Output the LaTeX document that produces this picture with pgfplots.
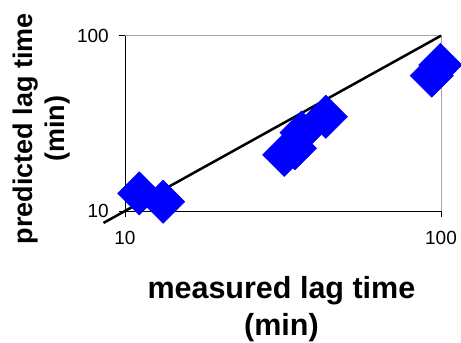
\documentclass[border=0pt]{standalone}
\usepackage{fontspec}
\setmainfont{Liberation Sans}
\usepackage{pgfplots}
\pgfplotsset{compat=1.18}
\begin{document}
\begin{tikzpicture}
\begin{loglogaxis}[
  width=316bp, height=175.3bp, scale only axis,
  xmin=10, xmax=100, ymin=10, ymax=100,
  axis lines=left,
  axis line style={-, black, line width=0.9bp},
  xtick={10,100}, ytick={10,100},
  xticklabels={10,100}, yticklabels={10,100},
  minor tick length=0pt,
  major tick length=6bp,
  tick align=outside,
  tick style={black, line width=0.9bp},
  /pgf/number format/assume math mode=true,
  ticklabel style={font=\fontsize{19bp}{22bp}\selectfont, inner sep=0pt},
  xticklabel style={anchor=north, yshift=-14bp},
  yticklabel style={anchor=east, xshift=-10bp},
  clip=false,
  xlabel={measured lag time\\(min)},
  ylabel={predicted lag time\\(min)},
  every axis x label/.style={at={(rel axis cs:0.495,-0.371)}, anchor=north,
     align=center, inner sep=0pt, font=\fontsize{30.5bp}{37bp}\selectfont\bfseries},
  every axis y label/.style={at={(rel axis cs:-0.354,0.47)}, anchor=north, rotate=90,
     align=center, inner sep=0pt, font=\fontsize{27bp}{32bp}\selectfont\bfseries},
]
\draw[gray!70, line width=0.9bp] (rel axis cs:0,1) -- (rel axis cs:1,1) -- (rel axis cs:1,0);
\addplot[black, line width=2.5bp, mark=none] coordinates {(8.55,8.55) (100,100)};
\addplot[only marks, mark=square*, mark size=15.3bp,
  mark options={fill=blue, draw=blue, line width=0.5bp, rotate=45}]
  coordinates {
  (11.1,12.6) (13.2,11.3)
  (31.9,20.9) (34.5,22.8) (36.2,28.0) (43.2,34.5)
  (93.5,59.2) (99.5,68.1)
  };
\coordinate (O) at (rel axis cs:0,0);
\end{loglogaxis}
\pgfresetboundingbox
\path (O) ++(-125bp,-132bp) rectangle ++(461bp,343bp);
\end{tikzpicture}
\end{document}
